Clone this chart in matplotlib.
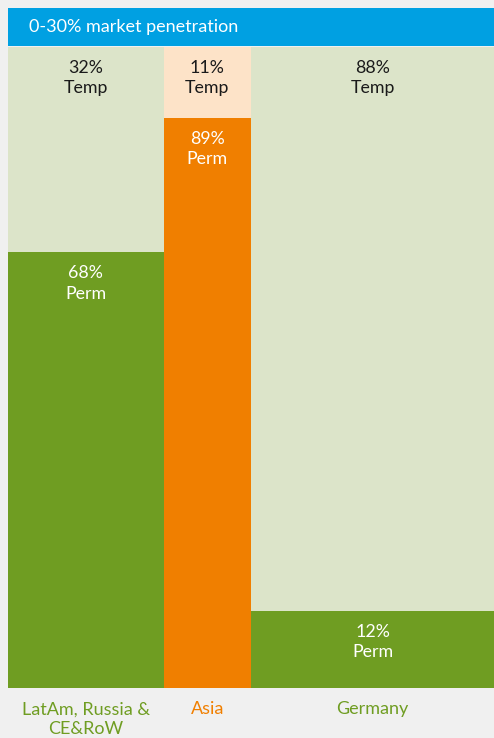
import matplotlib
matplotlib.use("Agg")
import matplotlib.pyplot as plt
from matplotlib.patches import Rectangle
import numpy as np

plt.rcParams['font.family'] = ['Lato', 'DejaVu Sans']

categories = ["LatAm, Russia &\nCE&RoW", "Asia", "Germany"]
widths = [32, 18, 50]          # share of column width (%)
perm = [68, 89, 12]            # % Perm
temp = [32, 11, 88]            # % Temp
title = "0-30% market penetration"

perm_colors = ["#6f9d22", "#f07f00", "#6f9d22"]
temp_colors = ["#dce4c9", "#fde3c8", "#dce4c9"]
label_colors = ["#6f9d22", "#f07f00", "#6f9d22"]
bg = "#f0f0f0"

W, H = 494, 738
fig = plt.figure(figsize=(W/100, H/100), dpi=100)
fig.patch.set_facecolor(bg)

ax = fig.add_axes([8/W, (H-688)/H, 486/W, 641/H])
ax.set_xlim(0, sum(widths))
ax.set_ylim(0, 100)
ax.axis('off')

lefts = np.concatenate([[0], np.cumsum(widths)[:-1]])
ax.bar(lefts, perm, width=widths, align='edge', color=perm_colors, linewidth=0)
ax.bar(lefts, temp, width=widths, bottom=perm, align='edge', color=temp_colors, linewidth=0)

fs = 12.8
for i in range(len(categories)):
    cx = lefts[i] + widths[i]/2
    for top, pct, name, col in [(100, temp[i], "Temp", "#1a1a1a"), (perm[i], perm[i], "Perm", "white")]:
        ax.annotate(f"{pct}%", (cx, top), xytext=(0, -15.3), textcoords='offset points',
                    ha='center', va='center', fontsize=fs, color=col)
        ax.annotate(name, (cx, top), xytext=(0, -29.8), textcoords='offset points',
                    ha='center', va='center', fontsize=fs, color=col)
    lines = categories[i].split("\n")
    for j, line in enumerate(lines):
        ax.annotate(line, (cx, 0), xytext=(0, -15.3 - 14.4*j), textcoords='offset points',
                    ha='center', va='center', fontsize=13, color=label_colors[i],
                    annotation_clip=False)

# banner
fig.patches.append(Rectangle((8/W, (H-45.5)/H), 1, 37.5/H, transform=fig.transFigure,
                             facecolor="#00a0e2", edgecolor='none'))
fig.text(29/W, (H-27)/H, title, ha='left', va='center', fontsize=13, color='white')

fig.savefig("out.png", dpi=100, facecolor=bg)
